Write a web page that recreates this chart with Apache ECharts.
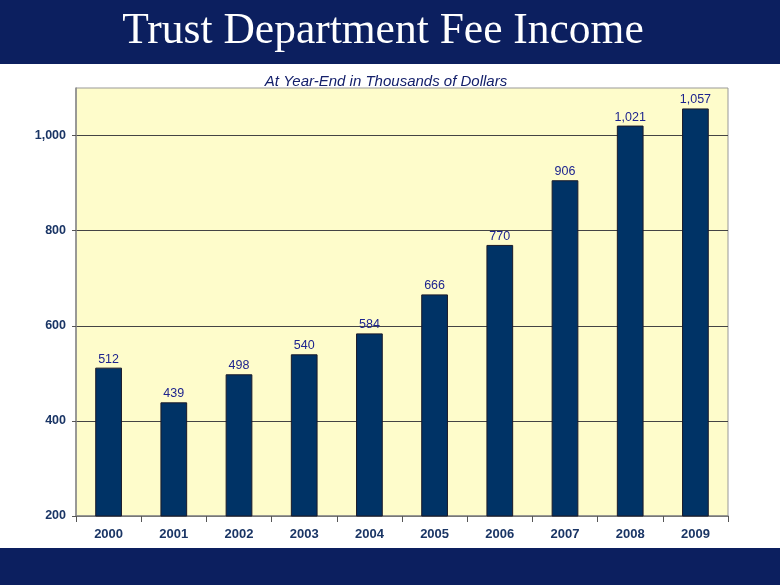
<!DOCTYPE html>
<html><head><meta charset="utf-8">
<script src="https://cdn.jsdelivr.net/npm/echarts@6/dist/echarts.min.js"></script>
<style>html,body{margin:0;padding:0;background:#fff}#c{width:780px;height:585px}</style>
</head><body><div id="c"></div>
<script>
const titleText = 'Trust Department Fee Income';
const subtitleText = 'At Year-End in Thousands of Dollars';
const years = ['2000','2001','2002','2003','2004','2005','2006','2007','2008','2009'];
const feeIncome = [512, 439, 498, 540, 584, 666, 770, 906, 1021, 1057];
const yTicks = [200, 400, 600, 800, 1000];

const chart = echarts.init(document.getElementById('c'), null, {renderer:'canvas'});
const fmt = v => Number(v).toLocaleString('en-US');
chart.setOption({
  animation:false,
  backgroundColor:'#ffffff',
  graphic:[
    {type:'rect', shape:{x:0,y:0,width:780,height:64}, style:{fill:'#0c1f5f'}, z:-1},
    {type:'rect', shape:{x:0,y:548,width:780,height:37}, style:{fill:'#0c1f5f'}, z:-1}
  ],
  title:[
    {text:titleText, left:378, textAlign:'center', top:5, textStyle:{color:'#ffffff', fontFamily:'Liberation Serif, Times New Roman, serif', fontSize:43.5, fontWeight:'normal'}},
    {text:subtitleText, left:381, textAlign:'center', top:69, textStyle:{color:'#14206b', fontFamily:'Liberation Sans, Arial, sans-serif', fontSize:15, fontStyle:'italic', fontWeight:'normal'}}
  ],
  grid:{left:76, right:52, top:88, bottom:69, show:true, backgroundColor:'#fefccb', borderColor:'#999999', borderWidth:1},
  xAxis:{
    type:'category', data:years,
    axisLine:{lineStyle:{color:'#888888', width:1.5}},
    axisTick:{show:true, length:6, lineStyle:{color:'#555555'}},
    axisLabel:{color:'#1a3565', fontFamily:'Liberation Sans, Arial, sans-serif', fontSize:13, fontWeight:'bold', margin:12}
  },
  yAxis:{
    type:'value', min:200, max:1100, interval:200,
    axisLine:{show:true, lineStyle:{color:'#888888', width:1.5}},
    axisTick:{show:true, length:4, customValues:yTicks, lineStyle:{color:'#555555'}},
    axisLabel:{color:'#1a3565', fontFamily:'Liberation Sans, Arial, sans-serif', fontSize:12.5, fontWeight:'bold', margin:10,
      customValues:yTicks, formatter:v => fmt(v)},
    splitLine:{show:true, lineStyle:{color:'#444444', width:1}}
  },
  series:[{
    type:'bar', data:feeIncome, barWidth:'41%',
    itemStyle:{color:'#003366', borderColor:'#1a1a2a', borderWidth:1},
    label:{show:true, position:'top', distance:2, color:'#1e248e', fontFamily:'Liberation Sans, Arial, sans-serif', fontSize:12.5, formatter:p => fmt(p.value)}
  }]
});
</script></body></html>
